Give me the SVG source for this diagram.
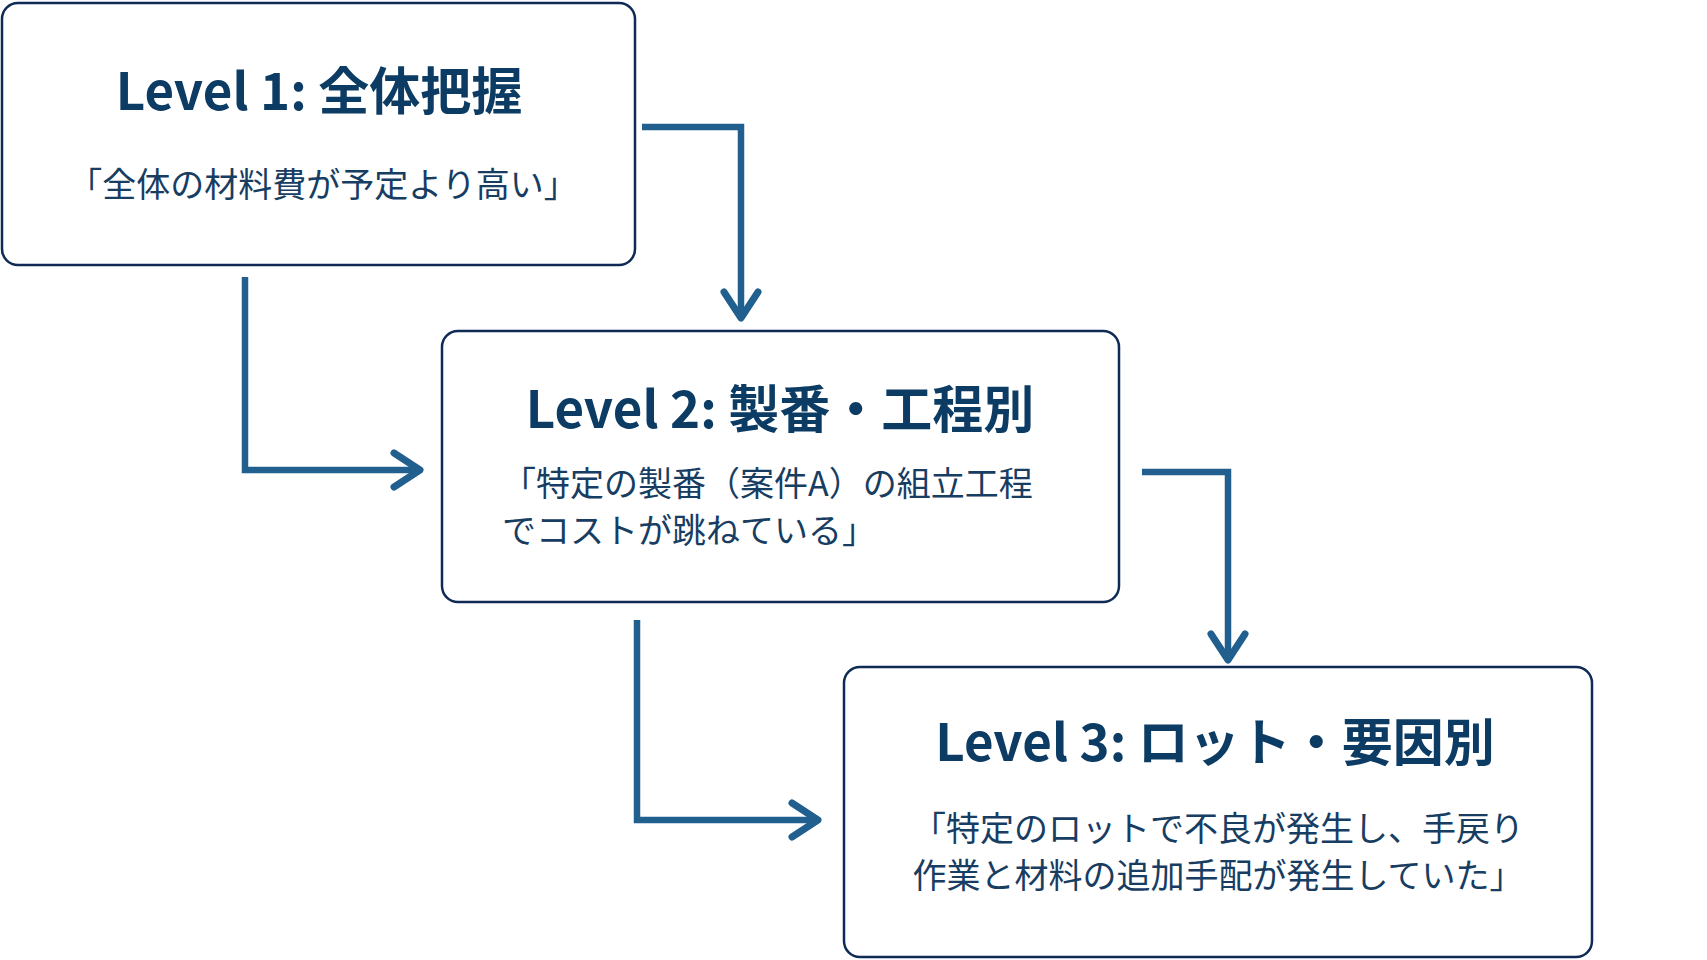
<svg xmlns="http://www.w3.org/2000/svg" width="1707" height="960" viewBox="0 0 1707 960">
  <style>
    .box { fill: #ffffff; stroke: #0f2b55; stroke-width: 2.5; }
    .title { font-family: "Noto Sans CJK JP", "Noto Sans", sans-serif; font-weight: 700; font-size: 51px; fill: #0c3b64; }
    .sub { font-family: "Noto Sans CJK JP", "Noto Sans", sans-serif; font-weight: 400; font-size: 34px; fill: #173d62; }
    .conn { fill: none; stroke: #215f8f; stroke-width: 6.5; stroke-linejoin: miter; stroke-linecap: butt; }
    .head { fill: none; stroke: #215f8f; stroke-width: 7; stroke-linejoin: round; stroke-linecap: round; }
  </style>
  <defs>
    <marker id="arrow" markerUnits="userSpaceOnUse" viewBox="-32 -22 38 44" markerWidth="38" markerHeight="44" refX="0" refY="0" orient="auto">
      <path class="head" d="M-26,-17 L0,0 L-26,17"/>
    </marker>
  </defs>
  <rect width="1707" height="960" fill="#ffffff"/>

  <g id="connectors">
    <path class="conn" d="M642,127 H741 V318" marker-end="url(#arrow)"/>
    <path class="conn" d="M245,277 V470 H420" marker-end="url(#arrow)"/>
    <path class="conn" d="M1142,472 H1228 V660" marker-end="url(#arrow)"/>
    <path class="conn" d="M637,620 V820 H818" marker-end="url(#arrow)"/>
  </g>

  <g id="level1">
    <rect class="box" x="2" y="3" width="633" height="262" rx="16"/>
    <text class="title" x="319" y="110" text-anchor="middle">Level 1: 全体把握</text>
    <text class="sub" x="323" y="197" text-anchor="middle">「全体の材料費が予定より高い」</text>
  </g>

  <g id="level2">
    <rect class="box" x="442" y="331" width="677" height="271" rx="16"/>
    <text class="title" x="780" y="428" text-anchor="middle">Level 2: 製番・工程別</text>
    <text class="sub" x="502" y="496">「特定の製番（案件A）の組立工程</text>
    <text class="sub" x="502" y="543">でコストが跳ねている」</text>
  </g>

  <g id="level3">
    <rect class="box" x="844" y="667" width="748" height="290" rx="16"/>
    <text class="title" x="1215" y="761" text-anchor="middle">Level 3: ロット・要因別</text>
    <text class="sub" x="1218" y="841" text-anchor="middle">「特定のロットで不良が発生し、手戻り</text>
    <text class="sub" x="1218" y="888" text-anchor="middle">作業と材料の追加手配が発生していた」</text>
  </g>
</svg>
